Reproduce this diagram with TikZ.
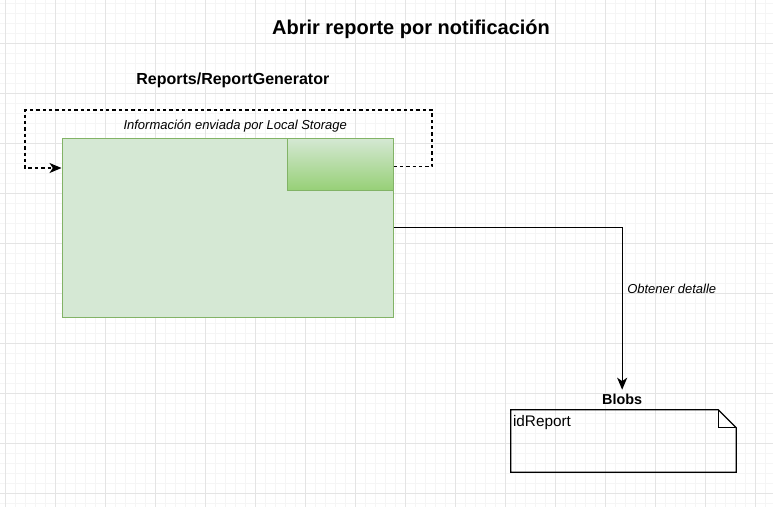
\documentclass[tikz,border=0pt]{standalone}
\usepackage{fontspec}
\setmainfont{Liberation Sans}
\usetikzlibrary{positioning,arrows.meta}
\definecolor{boxfill}{HTML}{D5E8D4}
\definecolor{boxline}{HTML}{82B366}
\definecolor{boxdark}{HTML}{97D077}
\definecolor{gridminor}{HTML}{F5F5F5}
\definecolor{gridmajor}{HTML}{E4E4E4}
\begin{document}
\begin{tikzpicture}[x=0.75pt,y=-0.75pt,
    font=\fontsize{9.75}{12}\selectfont,
    heading/.style={font=\bfseries\fontsize{12}{14}\selectfont},
    compbox/.style={draw=boxline,fill=boxfill,line width=0.75pt,
      minimum width=248.25pt,minimum height=134.25pt},
    storebox/.style={draw=boxline,line width=0.75pt,top color=boxfill,
      bottom color=boxdark,minimum width=79.5pt,minimum height=39pt},
    flow/.style={line width=1pt},
    tip/.style={-{Stealth[length=9pt,width=7.5pt,inset=2.5pt]}},
    dashflow/.style={flow,dash pattern=on 2.5pt off 2.25pt}]
    \useasboundingbox (0,0) rectangle (773,507);
    % grid
    \foreach \x in {5,15,...,765} \draw[gridminor,line width=0.75pt] (\x,0) -- (\x,507);
    \foreach \y in {3,13,...,503} \draw[gridminor,line width=0.75pt] (0,\y) -- (773,\y);
    \foreach \x in {5,55,...,755} \draw[gridmajor,line width=0.75pt] (\x,0) -- (\x,507);
    \foreach \y in {43,93,...,493} \draw[gridmajor,line width=0.75pt] (0,\y) -- (773,\y);

    \node[font=\bfseries\fontsize{15}{18}\selectfont] (title) at (411,29) {Abrir reporte por notificación};
    \node[compbox] (gen) at (227.5,227.5) {};
    \node[storebox,anchor=north east] (local) at (gen.north east) {};
    \node[heading] (gen-title) [above=34pt of gen,xshift=4pt] {Reports/ReportGenerator};
    \node[minimum width=168.75pt,minimum height=46.5pt,
      label={[anchor=north west,inner sep=1.5pt,yshift=-2.5pt,font=\fontsize{11.5}{13}\selectfont]north west:idReport}]
      (blob) at (623.5,441) {};
    \draw[flow] (blob.north west) -- ([xshift=-13.5pt]blob.north east)
      -- ([yshift=-13.5pt]blob.north east) -- (blob.south east) -- (blob.south west) -- cycle;
    \draw[flow] ([xshift=-13.5pt]blob.north east) |- ([yshift=-13.5pt]blob.north east);
    \node[font=\bfseries\fontsize{10.8}{13}\selectfont] (blob-title) [above=0pt of blob,xshift=-1pt] {Blobs};

    \coordinate (loop-r) at (432,110);
    \coordinate (loop-l) at (25,110);
    \draw[dashflow,tip] ([yshift=-2pt]local.east) -| (loop-r)
      -- node[midway,yshift=-12pt,xshift=5pt,font=\itshape\fontsize{9.75}{12}\selectfont]
         {Información enviada por Local Storage} (loop-l)
      |- ([yshift=-3pt]gen.west |- local.east);
    \draw[flow,tip] (gen.east) -| node[pos=0.69,right,font=\itshape\fontsize{9.75}{12}\selectfont]
      {Obtener detalle} (blob-title.north);
\end{tikzpicture}
\end{document}
